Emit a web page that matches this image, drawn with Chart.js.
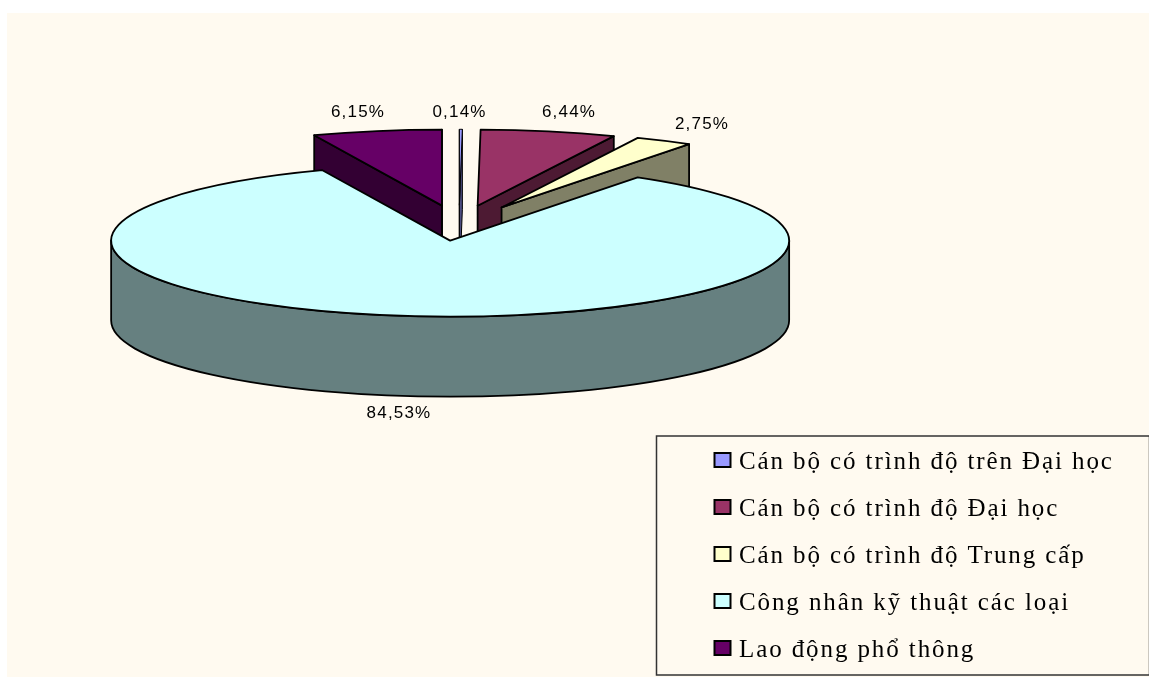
<!DOCTYPE html>
<html><head><meta charset="utf-8">
<style>
html,body{margin:0;padding:0;background:#fff;}
#wrap{position:relative;width:1149px;height:678px;overflow:hidden;}
canvas{display:block;}
</style>
<script src="https://cdn.jsdelivr.net/npm/chart.js@4"></script>
</head><body><div id="wrap"><canvas id="c" width="1149" height="678"></canvas></div>
<script>
const categories = ["Cán bộ có trình độ trên Đại học","Cán bộ có trình độ Đại học","Cán bộ có trình độ Trung cấp","Công nhân kỹ thuật các loại","Lao động phổ thông"];
const values = [0.14, 6.44, 2.75, 84.53, 6.15];
const valueLabels = ["0,14%","6,44%","2,75%","84,53%","6,15%"];
const topColors = ["#9999FF","#993366","#FFFFCC","#CCFFFF","#660066"];
const wallColors = ["#4D4D80","#4D1A33","#808066","#668080","#330033"];

const BG = "#FFFAF0";
const CX = 459, CY = 223, RX = 339, RY = 76, DEPTH = 80;
const EXPLODE_X = 0.262, EXPLODE_Y = 0.233;
const drawOrder = [4,0,1,2,3];
const labelPos = [[459.5,112],[569,112],[702,124],[399,413],[358,112]];
const LW = 1.8;

const pie3d = {
  id:'pie3d',
  beforeDraw(chart){
    const c = chart.ctx;
    c.save();
    c.fillStyle = BG;
    c.fillRect(7,13,1142,664);
    c.restore();
  },
  beforeDatasetsDraw(chart){
    const c = chart.ctx, arcs = chart.getDatasetMeta(0).data;
    for (const i of drawOrder) {
      const a = arcs[i];
      const R = a.outerRadius;
      const sx = RX/R, sy = RY/R;
      const mid = (a.startAngle+a.endAngle)/2;
      const ax = Math.cos(mid)*EXPLODE_X*R, ay = Math.sin(mid)*EXPLODE_Y*R;
      const setup = (d)=>{ c.translate(CX, CY+d); c.scale(sx,sy); c.translate(ax,ay); };
      const pt = (ang,r)=>({x:CX+(ax+Math.cos(ang)*r)*sx, y:CY+(ay+Math.sin(ang)*r)*sy});
      const apex = pt(0,0);
      const lw = i===0 ? 1 : LW;
      c.save(); c.lineWidth=lw; c.strokeStyle='#000'; c.lineJoin='round'; c.fillStyle=wallColors[i];
      // radial cut faces that look towards the viewer
      const faces = [];
      if (i!==3) {
        if (Math.cos(a.startAngle)<0 || i===0) faces.push(a.startAngle);
        if (Math.cos(a.endAngle)>0 || i===4) faces.push(a.endAngle);
      }
      for (const ang of faces) {
        const p = pt(ang,R);
        c.beginPath(); c.moveTo(apex.x,apex.y); c.lineTo(p.x,p.y); c.lineTo(p.x,p.y+DEPTH); c.lineTo(apex.x,apex.y+DEPTH); c.closePath();
        c.fill(); c.stroke();
      }
      // outer curved wall on the front half
      const s = Math.max(a.startAngle,0), e = Math.min(a.endAngle,Math.PI);
      if (e>s) {
        c.beginPath();
        c.save(); setup(0); c.arc(0,0,R,s,e); c.restore();
        c.save(); setup(DEPTH); c.arc(0,0,R,e,s,true); c.restore();
        c.closePath(); c.fill(); c.stroke();
      }
      c.restore();
      // top face, drawn by the library's arc element under the ellipse transform
      c.save();
      setup(0); c.translate(-a.x,-a.y);
      a.draw(c);
      c.restore();
      // outline of the top face, with an unscaled pen
      c.save(); c.lineWidth=lw; c.strokeStyle='#000'; c.lineJoin='round';
      c.beginPath();
      c.save(); setup(0); c.moveTo(0,0); c.arc(0,0,R,a.startAngle,a.endAngle); c.closePath(); c.restore();
      c.stroke(); c.restore();
    }
    return false;
  },
  afterDraw(chart){
    const c = chart.ctx;
    c.save();
    c.fillStyle='#000'; c.textAlign='center'; c.textBaseline='middle';
    c.font='17px "Liberation Sans"';
    c.letterSpacing='1.2px';
    valueLabels.forEach((t,i)=>c.fillText(t,labelPos[i][0],labelPos[i][1]));
    // legend box
    c.strokeStyle='#333'; c.lineWidth=1.5;
    c.strokeRect(656.5,436,493,239);
    c.textAlign='left'; c.textBaseline='alphabetic';
    c.font='25px "Liberation Serif"';
    c.letterSpacing='1.9px';
    categories.forEach((t,i)=>{
      const y = 462+i*47;
      c.fillStyle=topColors[i];
      c.fillRect(714.5,y-9,16,14);
      c.strokeStyle='#000'; c.lineWidth=2; c.strokeRect(714.5,y-9,16,14);
      c.fillStyle='#000';
      c.fillText(t,739,y+7);
    });
    c.restore();
  }
};

new Chart(document.getElementById('c'),{
  type:'pie',
  data:{labels:categories,datasets:[{data:values,backgroundColor:topColors,borderWidth:0}]},
  options:{
    responsive:false,animation:false,
    rotation:0,
    layout:{padding:0},
    plugins:{legend:{display:false},tooltip:{enabled:false}}
  },
  plugins:[pie3d]
});
</script></body></html>
